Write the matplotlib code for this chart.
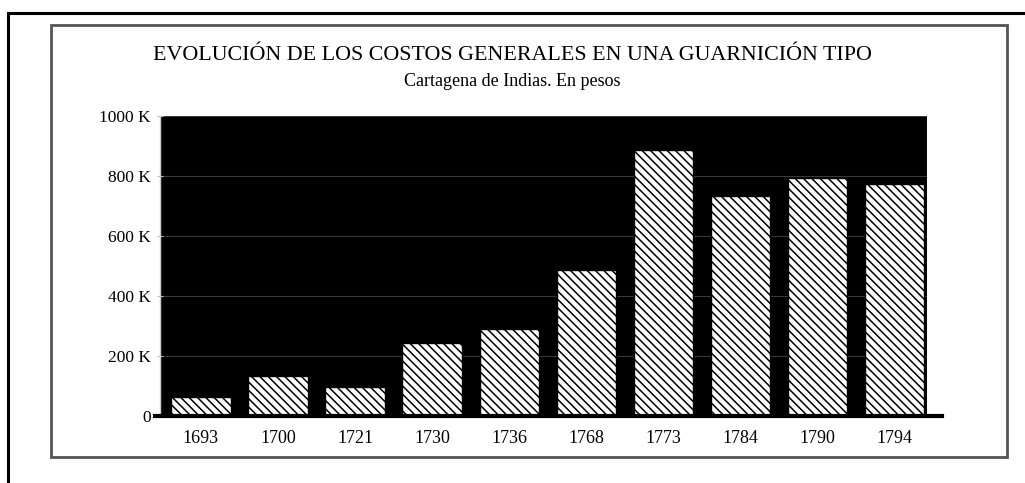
import matplotlib
matplotlib.use("Agg")
import matplotlib.pyplot as plt
from matplotlib.ticker import FuncFormatter, MultipleLocator
from matplotlib.lines import Line2D
from matplotlib.patches import Rectangle

years = ["1693", "1700", "1721", "1730", "1736", "1768", "1773", "1784", "1790", "1794"]
costs = [65000, 135000, 97000, 242000, 290000, 487000, 888000, 735000, 795000, 775000]

title = "EVOLUCIÓN DE LOS COSTOS GENERALES EN UNA GUARNICIÓN TIPO"
subtitle = "Cartagena de Indias. En pesos"

plt.rcParams['font.family'] = ['Liberation Serif', 'DejaVu Serif']
plt.rcParams['hatch.linewidth'] = 1.1

fig = plt.figure(figsize=(10.25, 4.83), dpi=100)

# outer frame (left and top lines)
fig.add_artist(Line2D([8/1025, 8/1025], [0, 1 - 13/483], color='black', lw=2.2,
                      transform=fig.transFigure))
fig.add_artist(Line2D([8/1025, 1], [1 - 13/483, 1 - 13/483], color='black', lw=2.2,
                      transform=fig.transFigure))
# inner box
fig.add_artist(Rectangle((51/1025, 1 - 457/483), (1007 - 51)/1025, (457 - 25)/483,
                         fill=False, edgecolor='#555555', lw=2.0, transform=fig.transFigure))

ax = fig.add_axes([160/1025, 1 - 416/483, (927 - 160)/1025, (416 - 116)/483])
ax.set_facecolor('black')
x = list(range(len(years)))
ax.bar(x, costs, width=0.77, color='white', edgecolor='black', hatch='\\\\\\\\', lw=1.0, zorder=3)
ax.set_xlim(-0.53, 9.42)
ax.set_ylim(0, 1000000)
ax.yaxis.set_major_locator(MultipleLocator(200000))
ax.yaxis.set_major_formatter(FuncFormatter(lambda v, p: "0" if v == 0 else f"{int(v/1000)} K"))
ax.grid(axis='y', color='#3a3a3a', lw=0.8, zorder=1)
ax.set_xticks(x)
ax.set_xticklabels(years)
ax.tick_params(axis='x', length=0, pad=10, labelsize=13)
ax.tick_params(axis='y', length=5, direction='inout', color='#bbbbbb', pad=4, labelsize=12.5)
for s in ['top', 'right']:
    ax.spines[s].set_visible(False)
ax.spines['left'].set_color('#cccccc')
ax.spines['left'].set_linewidth(1.0)
ax.spines['bottom'].set_visible(False)
# thick baseline extending slightly beyond the plot area
ax.plot([-0.6, 9.62], [0, 0], color='black', lw=3, clip_on=False, zorder=5)

fig.text(0.5, 1 - 55/483, title, ha='center', va='center', fontsize=15.8)
fig.text(0.5, 1 - 82/483, subtitle, ha='center', va='center', fontsize=13)

fig.savefig("out.png", dpi=100)
